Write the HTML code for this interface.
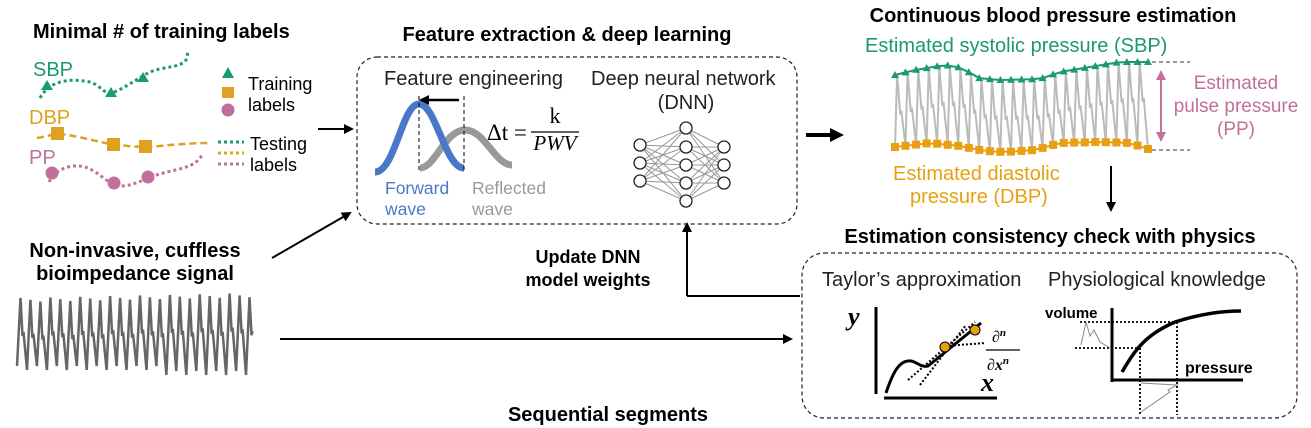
<!DOCTYPE html>
<html><head><meta charset="utf-8"><style>
html,body{margin:0;padding:0;background:#fff;}
svg{display:block;font-family:"Liberation Sans",Arial,sans-serif;}
.b{font-weight:bold;font-size:20px;fill:#000;}
.t{font-size:20px;fill:#222;}
</style></head><body>
<svg id="s" width="1311" height="428" viewBox="0 0 1311 428" xmlns="http://www.w3.org/2000/svg">
<defs>
<marker id="ah" markerWidth="10" markerHeight="10" refX="8" refY="5" orient="auto" markerUnits="userSpaceOnUse"><path d="M0,0 L10,5 L0,10 z" fill="#000"/></marker>
<marker id="ah2" markerWidth="14" markerHeight="14" refX="10" refY="7" orient="auto" markerUnits="userSpaceOnUse"><path d="M0,0 L14,7 L0,14 z" fill="#000"/></marker>
<marker id="pk" markerWidth="10" markerHeight="10" refX="8" refY="5" orient="auto-start-reverse" markerUnits="userSpaceOnUse"><path d="M0,0 L10,5 L0,10 z" fill="#c0709a"/></marker>
</defs>

<!-- Left top -->
<text class="b" x="33" y="38">Minimal # of training labels</text>
<text x="33" y="76" font-size="20" fill="#1a9a6e">SBP</text>
<path d="M40,98 C50,80 70,78 90,82 C100,85 105,95 112,93 C125,88 135,80 150,72 C165,66 180,68 186,60 L188,52" fill="none" stroke="#1a9a6e" stroke-width="3" stroke-dasharray="3,3"/>
<path d="M41,90 l6,-10 l6,10z M105,97 l6,-10 l6,10z M137,82 l6,-10 l6,10z" fill="#1a9a6e"/>
<text x="29" y="124" font-size="20" fill="#e0a020">DBP</text>
<path d="M37,138 C50,136 55,133 60,134 C80,136 100,143 113,144 C125,146 140,148 160,146 C180,144 195,143 208,143" fill="none" stroke="#e0a020" stroke-width="2.5" stroke-dasharray="7,4"/>
<rect x="51" y="127" width="13" height="13" fill="#e0a020"/><rect x="107" y="138" width="13" height="13" fill="#e0a020"/><rect x="139" y="140" width="13" height="13" fill="#e0a020"/>
<text x="29" y="164" font-size="20" fill="#c0709a">PP</text>
<path d="M49,182 C55,170 70,163 85,167 C100,172 108,185 120,186 C135,186 145,178 160,174 C180,168 195,168 202,155" fill="none" stroke="#c0709a" stroke-width="3" stroke-dasharray="3,3"/>
<circle cx="52" cy="173" r="6.5" fill="#c0709a"/><circle cx="114" cy="183" r="6.5" fill="#c0709a"/><circle cx="148" cy="177" r="6.5" fill="#c0709a"/>
<path d="M222,78 l6,-11 l6,11z" fill="#1a9a6e"/>
<rect x="222" y="87" width="12" height="11" fill="#e0a020"/>
<circle cx="228" cy="110" r="6.5" fill="#c0709a"/>
<text x="248" y="90" font-size="18">Training</text><text x="248" y="111" font-size="18">labels</text>
<g stroke-width="3" stroke-dasharray="3,3"><line x1="218" y1="142" x2="244" y2="142" stroke="#1a9a6e"/><line x1="218" y1="153" x2="244" y2="153" stroke="#e0a020"/><line x1="218" y1="164" x2="244" y2="164" stroke="#c0709a"/></g>
<text x="250" y="150" font-size="18">Testing</text><text x="250" y="171" font-size="18">labels</text>
<line x1="318" y1="129" x2="352" y2="129" stroke="#000" stroke-width="2" marker-end="url(#ah)"/>

<!-- Box 1 -->
<text class="b" x="567" y="41" text-anchor="middle">Feature extraction &amp; deep learning</text>
<rect x="357" y="57" width="440" height="167" rx="20" fill="none" stroke="#222" stroke-width="1.2" stroke-dasharray="4,3"/>
<text class="t" x="384" y="85">Feature engineering</text>
<text class="t" x="591" y="85">Deep neural network</text>
<text class="t" x="686" y="109" text-anchor="middle">(DNN)</text>
<path d="M420,168 C435,168 445,130 465,130 C485,130 495,165 512,165" fill="none" stroke="#999" stroke-width="7"/>
<path d="M375,172 C395,172 402,104 419,104 C436,104 445,168 464,168" fill="none" stroke="#4a78c8" stroke-width="7"/>
<line x1="419" y1="96" x2="419" y2="170" stroke="#000" stroke-dasharray="4,3"/>
<line x1="464" y1="96" x2="464" y2="170" stroke="#000" stroke-dasharray="4,3"/>
<line x1="459" y1="100" x2="421" y2="100" stroke="#000" stroke-width="2.5" marker-end="url(#ah)"/>
<text x="487" y="140" font-family="Liberation Serif,serif" font-size="23">Δt =</text>
<line x1="531" y1="132" x2="579" y2="132" stroke="#000" stroke-width="1.3"/>
<text x="555" y="123" font-family="Liberation Serif,serif" font-size="22" text-anchor="middle">k</text>
<text x="555" y="150" font-family="Liberation Serif,serif" font-size="21" font-style="italic" text-anchor="middle">PWV</text>
<text x="385" y="194" font-size="17.5" fill="#4a78c8">Forward</text><text x="385" y="215" font-size="17.5" fill="#4a78c8">wave</text>
<text x="472" y="194" font-size="17.5" fill="#999">Reflected</text><text x="472" y="215" font-size="17.5" fill="#999">wave</text>
<g id="nn" stroke="#999" stroke-width="1"></g>
<line x1="687" y1="296" x2="687" y2="224" stroke="#000" stroke-width="2" marker-end="url(#ah)"/>
<polyline points="800,296 687,296" stroke="#000" stroke-width="2" fill="none"/>
<text x="588" y="263" text-anchor="middle" font-weight="bold" font-size="18">Update DNN</text>
<text x="588" y="286" text-anchor="middle" font-weight="bold" font-size="18">model weights</text>

<!-- left bottom -->
<text class="b" x="135" y="257" text-anchor="middle">Non-invasive, cuffless</text>
<text class="b" x="135" y="280" text-anchor="middle">bioimpedance signal</text>
<path id="w1" fill="none" stroke="#666" stroke-width="2.5"/>
<line x1="272" y1="258" x2="350" y2="213" stroke="#000" stroke-width="2" marker-end="url(#ah)"/>
<line x1="280" y1="339" x2="791" y2="339" stroke="#000" stroke-width="2" marker-end="url(#ah)"/>
<text class="b" x="608" y="421" text-anchor="middle">Sequential segments</text>

<!-- right top -->
<line x1="806" y1="135" x2="840" y2="135" stroke="#000" stroke-width="4" marker-end="url(#ah2)"/>
<text class="b" x="1053" y="22" text-anchor="middle" font-size="20.5">Continuous blood pressure estimation</text>
<text x="865" y="52" font-size="20" fill="#1a9a6e">Estimated systolic pressure (SBP)</text>
<path id="w2" fill="none" stroke="#bbb" stroke-width="2"/>
<path id="sbp" fill="none" stroke="#1a9a6e" stroke-width="2"/>
<g id="sbpm" fill="#1a9a6e"></g>
<path id="dbp" fill="none" stroke="#e8a010" stroke-width="2"/>
<g id="dbpm" fill="#e8a010"></g>
<line x1="1152" y1="62" x2="1190" y2="62" stroke="#333" stroke-dasharray="4,3"/>
<line x1="1152" y1="150" x2="1190" y2="150" stroke="#333" stroke-dasharray="4,3"/>
<line x1="1161" y1="72" x2="1161" y2="140" stroke="#c0709a" stroke-width="2" marker-start="url(#pk)" marker-end="url(#pk)"/>
<g font-size="19" fill="#c0709a" text-anchor="middle"><text x="1236" y="89">Estimated</text><text x="1236" y="112">pulse pressure</text><text x="1236" y="135">(PP)</text></g>
<g font-size="20" fill="#e8a010"><text x="893" y="180">Estimated diastolic</text><text x="910" y="203">pressure (DBP)</text></g>
<line x1="1111" y1="166" x2="1111" y2="210" stroke="#000" stroke-width="2" marker-end="url(#ah)"/>

<!-- box 2 -->
<text class="b" x="1050" y="243" text-anchor="middle">Estimation consistency check with physics</text>
<rect x="802" y="253" width="495" height="165" rx="22" fill="none" stroke="#222" stroke-width="1.2" stroke-dasharray="4,3"/>
<text class="t" x="822" y="286">Taylor’s approximation</text>
<text class="t" x="1048" y="286">Physiological knowledge</text>
<text x="848" y="325" font-family="Liberation Serif,serif" font-style="italic" font-weight="bold" font-size="26">y</text>
<line x1="876" y1="307" x2="876" y2="394" stroke="#000" stroke-width="3"/>
<line x1="884" y1="398" x2="997" y2="398" stroke="#000" stroke-width="3"/>
<text x="981" y="391" font-family="Liberation Serif,serif" font-style="italic" font-weight="bold" font-size="26">x</text>
<path d="M886,393 C892,375 898,362 908,361 C916,360 920,368 928,366 L981,323" fill="none" stroke="#000" stroke-width="3"/>
<g stroke="#000" stroke-width="2" stroke-dasharray="2,2" fill="none"><line x1="908" y1="380" x2="975" y2="322"/><line x1="920" y1="385" x2="966" y2="325"/><line x1="946" y1="346" x2="985" y2="343"/></g>
<circle cx="945" cy="347" r="5" fill="#e8a010" stroke="#000"/><circle cx="975" cy="330" r="5" fill="#e8a010" stroke="#000"/>
<g font-family="Liberation Serif,serif" font-style="italic" font-weight="bold" font-size="16"><text x="992" y="342">∂<tspan font-size="11" dy="-6">n</tspan></text><line x1="986" y1="350" x2="1020" y2="350" stroke="#000" stroke-width="1.3"/><text x="987" y="370">∂x<tspan font-size="11" dy="-6">n</tspan></text></g>
<text x="1045" y="318" font-weight="bold" font-size="15">volume</text>
<text x="1185" y="373" font-weight="bold" font-size="16">pressure</text>
<line x1="1112" y1="308" x2="1112" y2="382" stroke="#000" stroke-width="3"/>
<line x1="1111" y1="380" x2="1243" y2="380" stroke="#000" stroke-width="3"/>
<path d="M1122,372 C1135,350 1145,335 1175,322 C1200,314 1220,311 1241,311" fill="none" stroke="#000" stroke-width="3.5"/>
<g stroke="#000" stroke-width="1.8" stroke-dasharray="2,2"><line x1="1080" y1="322" x2="1177" y2="322"/><line x1="1075" y1="348" x2="1140" y2="348"/><line x1="1140" y1="348" x2="1140" y2="415"/><line x1="1177" y1="322" x2="1177" y2="415"/></g>
<path d="M1081,345 L1086,322 L1090,336 L1094,330 L1100,342 L1110,348" fill="none" stroke="#888" stroke-width="1"/>
<path d="M1141,383 L1177,385 L1168,390 L1170,392 L1141,412" fill="none" stroke="#888" stroke-width="1"/>
</svg>
<script>
(function(){
var NS="http://www.w3.org/2000/svg";
function el(t,a,p){var e=document.createElementNS(NS,t);for(var k in a)e.setAttribute(k,a[k]);p.appendChild(e);return e;}
var cols=[[640,[145,163,181]],[686,[128,147,165,183,201]],[724,[147,165,183]]];
var g=document.getElementById('nn');
for(var c=0;c<2;c++){var A=cols[c],B=cols[c+1];A[1].forEach(function(y1){B[1].forEach(function(y2){el('line',{x1:A[0],y1:y1,x2:B[0],y2:y2},g);});});}
cols.forEach(function(cl){cl[1].forEach(function(y){el('circle',{cx:cl[0],cy:y,r:6,fill:'#fff',stroke:'#222','stroke-width':1.3},g);});});
var d="",n=24,x0=17,x1=256,p=(x1-x0)/n;
for(var i=0;i<n;i++){var x=x0+i*p,tp=300-(i/n)*5+((i%3)-1)*2,bt=366+(i>14?5:0)+((i%2)*4);
d+=(i?"L":"M")+x.toFixed(1)+","+bt.toFixed(1)+" L"+(x+p*0.35).toFixed(1)+","+tp.toFixed(1)+" L"+(x+p*0.55).toFixed(1)+","+(tp+38).toFixed(1)+" L"+(x+p*0.65).toFixed(1)+","+(tp+34).toFixed(1)+" ";}
document.getElementById('w1').setAttribute('d',d);
function interp(pts,x){for(var k=0;k<pts.length-1;k++){if(x<=pts[k+1][0]){var f=(x-pts[k][0])/(pts[k+1][0]-pts[k][0]);return pts[k][1]+f*(pts[k+1][1]-pts[k][1]);}}return pts[pts.length-1][1];}
var SP=[[895,75],[915,70],[945,65],[962,68],[978,78],[1000,80],[1040,79],[1060,72],[1090,67],[1120,62],[1150,62]];
var DP=[[895,147],[930,143],[960,146],[985,151],[1005,152],[1035,150],[1060,143],[1100,142],[1130,143],[1148,149]];
var N=25,a=895,b=1148,q=(b-a)/(N-1);
var w="",s="",dd="",gs=document.getElementById('sbpm'),gd=document.getElementById('dbpm');
for(var i=0;i<N;i++){var x=a+i*q,sv=interp(SP,x),dv=interp(DP,x);s+=(i?"L":"M")+x.toFixed(1)+","+sv.toFixed(1);dd+=(i?"L":"M")+x.toFixed(1)+","+dv.toFixed(1);
if(i<N-1){var sn=interp(SP,x+q*0.2);w+=(i?"L":"M")+x.toFixed(1)+","+dv.toFixed(1)+" L"+(x+q*0.2).toFixed(1)+","+sn.toFixed(1)+" L"+(x+q*0.5).toFixed(1)+","+(sn+40).toFixed(1)+" L"+(x+q*0.6).toFixed(1)+","+(sn+36).toFixed(1)+" ";}
el('path',{d:"M"+(x-4).toFixed(1)+","+(sv+3).toFixed(1)+" l4,-7 l4,7z"},gs);
el('rect',{x:(x-4).toFixed(1),y:(dv-4).toFixed(1),width:8,height:8},gd);}
w+="L"+b+","+interp(DP,b).toFixed(1);
document.getElementById('w2').setAttribute('d',w);
document.getElementById('sbp').setAttribute('d',s);
document.getElementById('dbp').setAttribute('d',dd);
})();
</script>
</body></html>
